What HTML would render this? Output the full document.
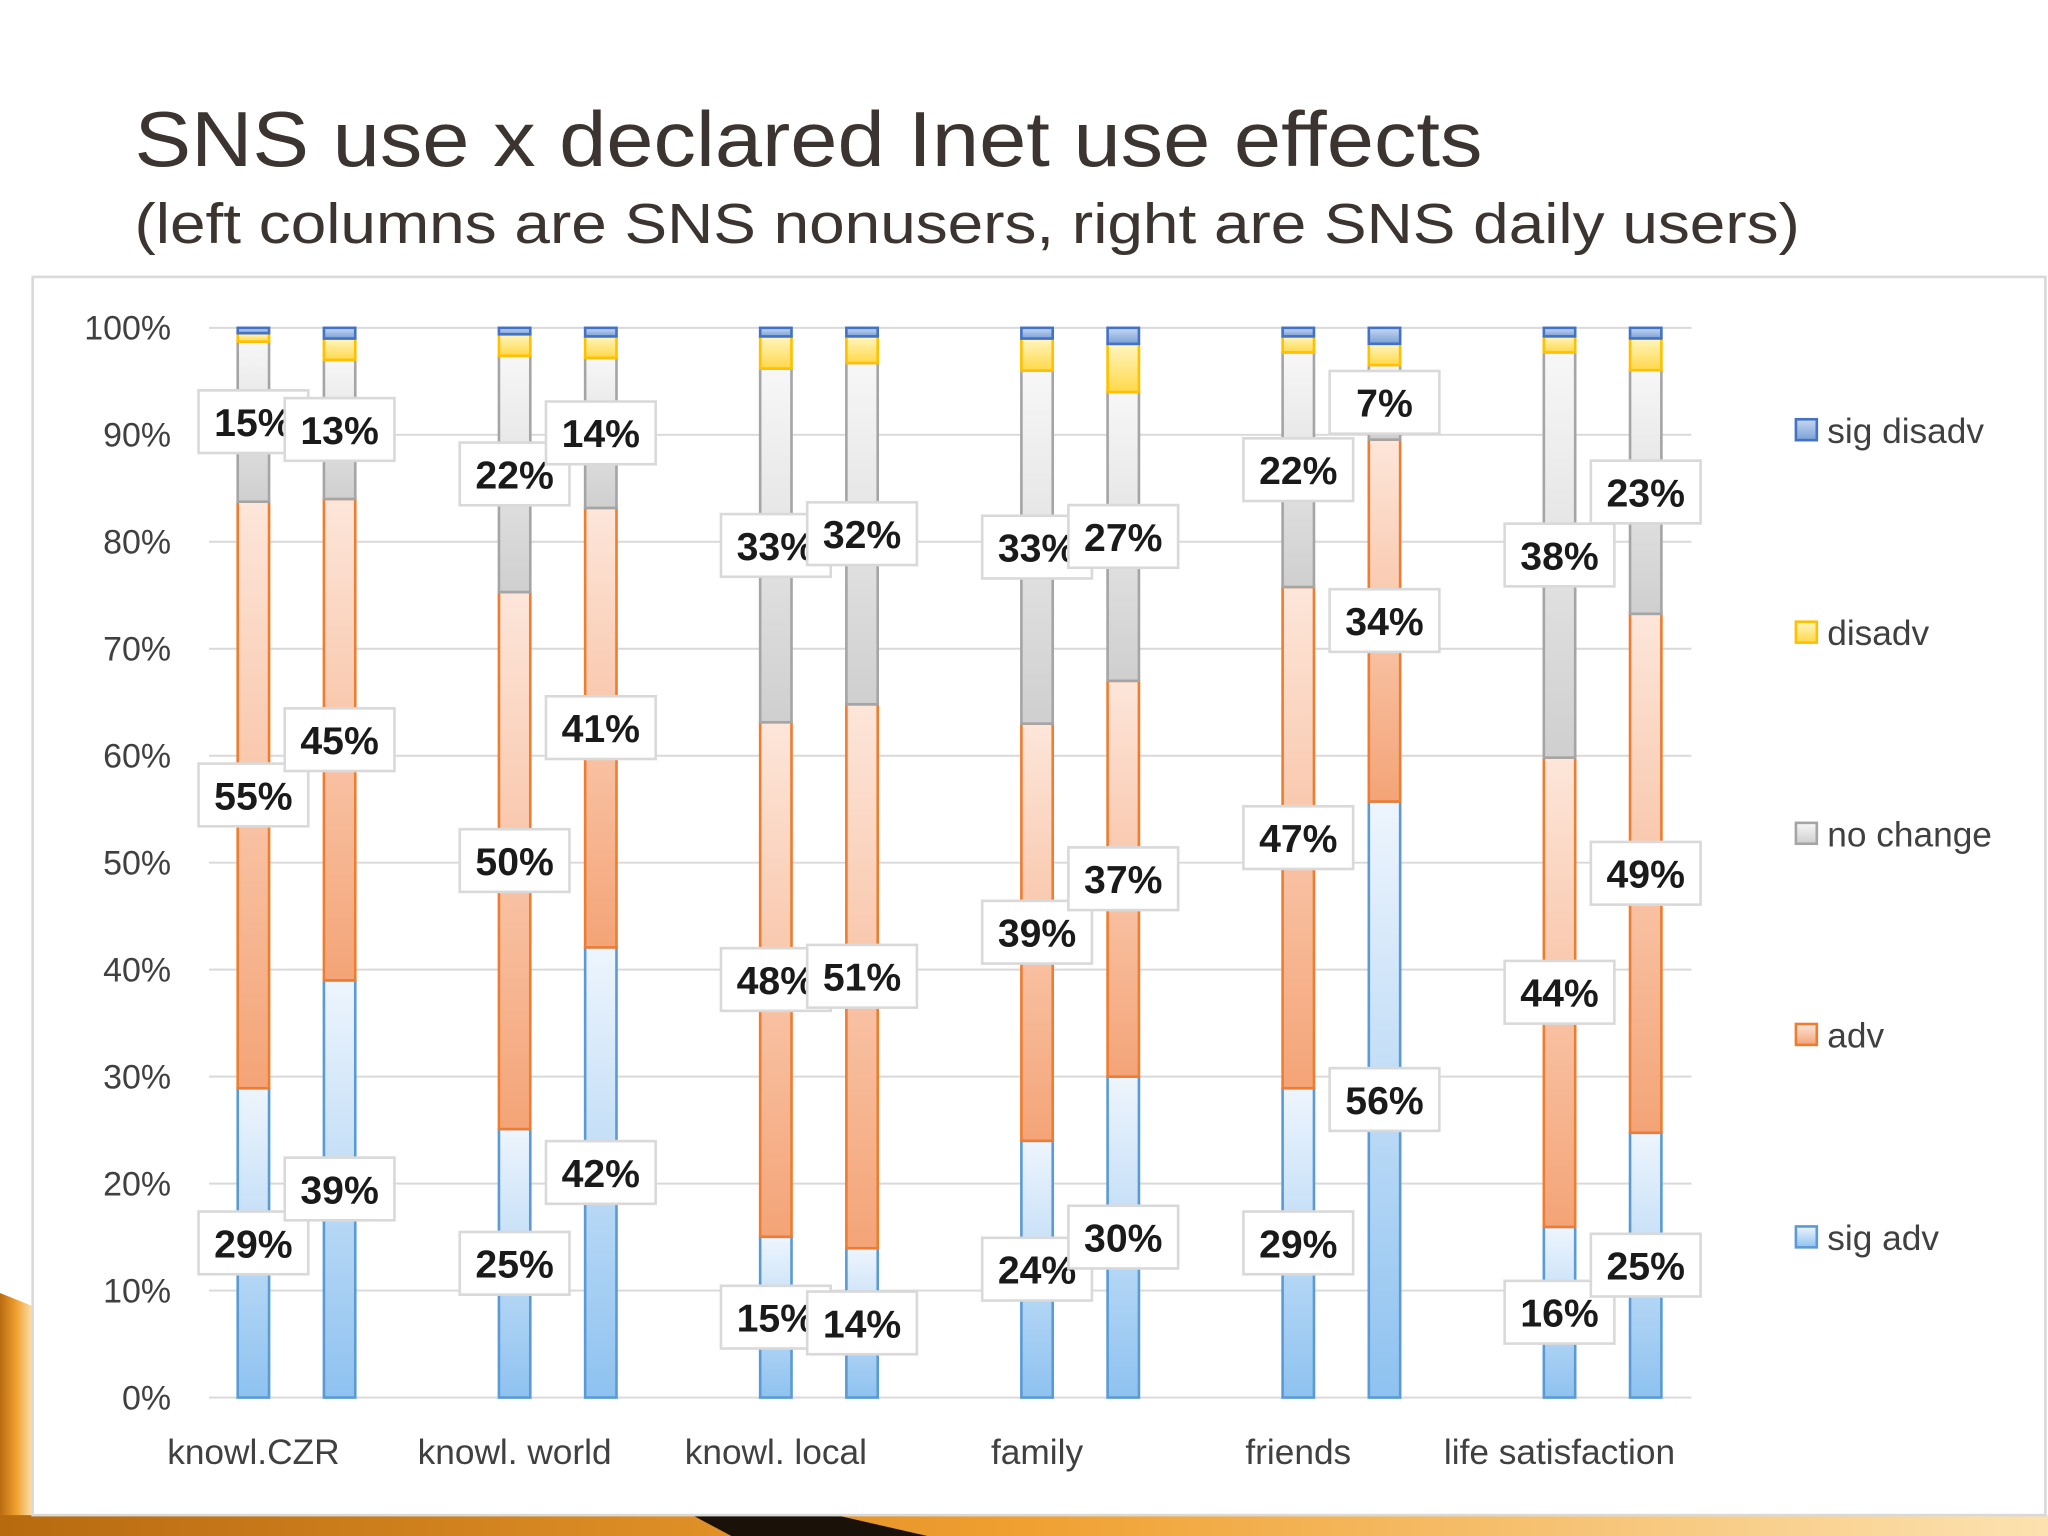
<!DOCTYPE html>
<html><head><meta charset="utf-8">
<style>
html,body{margin:0;padding:0;background:#fff;}
svg{display:block;}
text{font-family:"Liberation Sans",sans-serif;}
</style></head>
<body>
<svg id="chart" width="2048" height="1536" viewBox="0 0 1568 1176" xmlns="http://www.w3.org/2000/svg">
<defs>
<linearGradient id="gBlue" x1="0" y1="0" x2="0" y2="1"><stop offset="0" stop-color="#eef5fd"/><stop offset="1" stop-color="#8ec2f0"/></linearGradient>
<linearGradient id="gOrange" x1="0" y1="0" x2="0" y2="1"><stop offset="0" stop-color="#fde6da"/><stop offset="1" stop-color="#f4a477"/></linearGradient>
<linearGradient id="gGray" x1="0" y1="0" x2="0" y2="1"><stop offset="0" stop-color="#f7f7f7"/><stop offset="1" stop-color="#cfcfcf"/></linearGradient>
<linearGradient id="gYellow" x1="0" y1="0" x2="0" y2="1"><stop offset="0" stop-color="#fff6c0"/><stop offset="1" stop-color="#ffd84a"/></linearGradient>
<linearGradient id="gDark" x1="0" y1="0" x2="0" y2="1"><stop offset="0" stop-color="#c7d8f0"/><stop offset="1" stop-color="#7aa0d8"/></linearGradient>
<linearGradient id="gDeco" x1="0" y1="0" x2="1" y2="0"><stop offset="0" stop-color="#b86a10"/><stop offset="0.5" stop-color="#f0a030"/><stop offset="1" stop-color="#fce2b0"/></linearGradient>
</defs>
<polygon points="0,990 25,1000 25,1176 0,1176" fill="url(#gDeco)"/>
<polygon points="0,1160 1568,1160 1568,1176 0,1176" fill="url(#gDeco)"/>
<polygon points="530,1160 640,1160 710,1176 560,1176" fill="#1a1208"/>
<text x="103" y="127" font-size="60" fill="#3b3430" textLength="1032" lengthAdjust="spacingAndGlyphs">SNS use x declared Inet use effects</text>
<text x="103" y="186" font-size="43" fill="#3b3430" textLength="1275" lengthAdjust="spacingAndGlyphs">(left columns are SNS nonusers, right are SNS daily users)</text>
<rect x="25" y="212" width="1541" height="948" fill="#fff" stroke="#d9d9d9" stroke-width="2"/>
<g id="grid"></g><g id="bars"></g><g id="labels"></g><g id="legend"></g>
</svg>
<script>
const categories = ["knowl.CZR","knowl. world","knowl. local","family","friends","life satisfaction"];
const seriesNames = ["sig adv","adv","no change","disadv","sig disadv"];
// each column: [sig adv, adv, no change, disadv, sig disadv]; two columns per category (nonusers, daily users)
const sigAdv    = [29,39, 25,42, 15,14, 24,30, 29,56, 16,25];
const adv       = [55,45, 50,41, 48,51, 39,37, 47,34, 44,49];
const noChange  = [15,13, 22,14, 33,32, 33,27, 22,7, 38,23];
const disadv    = [0.8,2, 2,2, 3,2.5, 3,4.5, 1.5,2, 1.5,3];
const sigDisadv = [0.5,1, 0.6,0.8, 0.8,0.8, 1,1.5, 0.8,1.5, 0.8,1];
const yTicks = [0,10,20,30,40,50,60,70,80,90,100];
const labelShow = [true,true,true,false,false];

const NS="http://www.w3.org/2000/svg";
const y0=1070, y100=251, xL=160, xR=1295;
const yS=v=>y0-(y0-y100)*v/100;
const catX=i=>194+200*i;
const colX=j=>catX(Math.floor(j/2))+(j%2)*66;
function mk(tag,attrs,parent){const e=document.createElementNS(NS,tag);for(const k in attrs)e.setAttribute(k,attrs[k]);parent.appendChild(e);return e;}
const grid=document.getElementById('grid'),bars=document.getElementById('bars'),labels=document.getElementById('labels'),legend=document.getElementById('legend');
yTicks.forEach(t=>{
  const l=mk('line',{x1:xL,x2:xR,y1:yS(t),y2:yS(t),stroke:'#d9d9d9','stroke-width':1.5},grid);
  
  
  const tx=mk('text',{x:131,y:yS(t)+9,'font-size':26,'text-anchor':'end',fill:'#404040'},grid);
  tx.textContent=t+'%';
  
  
});
categories.forEach((c,i)=>{
  const tx=mk('text',{x:catX(i),y:1121,'font-size':27,'text-anchor':'middle',fill:'#404040'},grid);
  tx.textContent=c;
  
  
});
const fills=['url(#gBlue)','url(#gOrange)','url(#gGray)','url(#gYellow)','url(#gDark)'];
const strokes=['#5b9bd5','#ed7d31','#a5a5a5','#ffc000','#4472c4'];
const series=[sigAdv,adv,noChange,disadv,sigDisadv];
const totals=sigAdv.map((_,j)=>series.reduce((a,s)=>a+s[j],0));
for(let j=0;j<sigAdv.length;j++){
  let cum=0;const x=colX(j);
  series.forEach((s,k)=>{
    const v=s[j]*100/totals[j],a=yS(cum),b=yS(cum+v);
    const r=mk('rect',{x:x-12,y:b,width:24,height:Math.max(a-b,0.5),fill:fills[k],stroke:strokes[k],'stroke-width':2},bars);
    
    
    cum+=v;
  });
}
for(let j=0;j<sigAdv.length;j++){
  let cum=0;const x=colX(j);
  series.forEach((s,k)=>{
    const v=s[j]*100/totals[j];const mid=yS(cum+v/2);cum+=v;
    if(!labelShow[k])return;
    const g=mk('g',{},labels);
    
    
    mk('rect',{x:x-42,y:mid-24,width:84,height:48,fill:'#fff',stroke:'#d9d9d9','stroke-width':2},g);
    const t=mk('text',{x:x,y:mid+11,'font-size':30,'font-weight':'bold','text-anchor':'middle',fill:'#1a1a1a'},g);
    t.textContent=Math.round(s[j])+'%';
  });
}
const legY=[948,793,639,485,330];
seriesNames.forEach((n,k)=>{
  const g=mk('g',{},legend);
  
  
  mk('rect',{x:1375,y:legY[k]-9,width:16,height:16,fill:fills[k],stroke:strokes[k],'stroke-width':2},g);
  const t=mk('text',{x:1399,y:legY[k]+9,'font-size':27,fill:'#404040'},g);
  t.textContent=n;
});
</script>
</body></html>
